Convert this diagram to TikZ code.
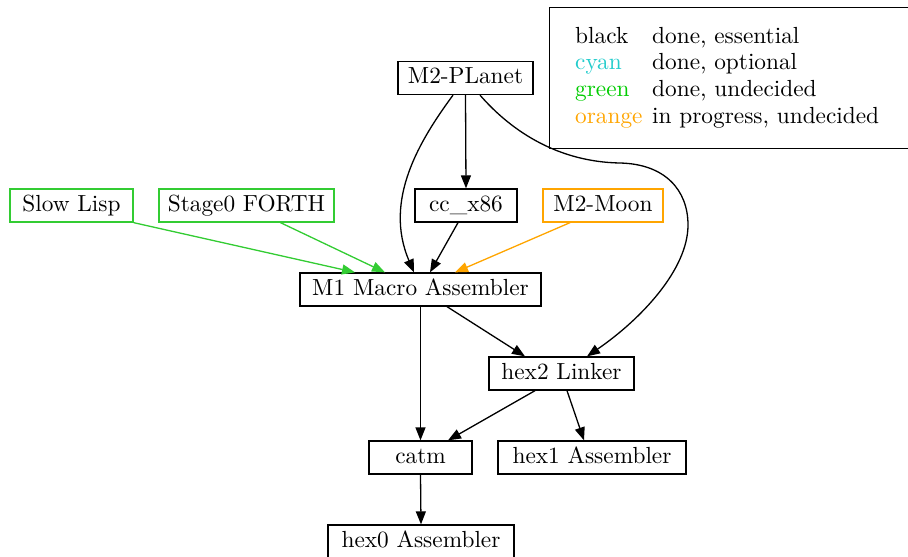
\documentclass[tikz,border=0pt]{standalone}
\usepackage{fontspec}
\setmainfont{lmroman10-regular}[Extension=.otf]
\usetikzlibrary{arrows.meta}
\definecolor{grn}{HTML}{33CC33}
\definecolor{orng}{HTML}{FFA500}
\definecolor{cyn}{HTML}{22CCCC}
\definecolor{grntxt}{HTML}{00CC00}
\begin{document}
\begin{tikzpicture}[x=1pt,y=-1pt, font=\fontsize{23.3}{28}\selectfont,
  box/.style={draw, line width=1.3pt, inner sep=0pt, minimum height=33pt, text height=16pt, text depth=5pt},
  gbox/.style={box, draw=grn},
  obox/.style={box, draw=orng},
  edge/.style={line width=1.3pt, -{Triangle[length=13pt,width=10pt]}},
  leg/.style={anchor=base west, inner sep=0pt},
]
\useasboundingbox (0,0) rectangle (908,557);
% legend
\node[draw, line width=1.3pt, inner sep=0pt, minimum width=365pt, minimum height=141pt, anchor=north west] (legend) at (549,7) {};
\node[leg] (k1) at (575,43) {black};
\node[leg, text=cyn] (k2) at (575,69.5) {cyan};
\node[leg, text=grntxt] (k3) at (575,96) {green};
\node[leg, text=orng] (k4) at (575,123) {orange};
\node[leg] (d1) at (652,43) {done, essential};
\node[leg] (d2) at (652,69.5) {done, optional};
\node[leg] (d3) at (652,96) {done, undecided};
\node[leg] (d4) at (652,123) {in progress, undecided};
% nodes
\node[box, minimum width=135pt] (m2p) at (465.5,78) {M2-PLanet};
\node[box, minimum width=102pt] (cc) at (466,205.5) {cc\_x86};
\node[obox, minimum width=120pt] (moon) at (603,205.5) {M2-Moon};
\node[gbox, minimum width=123pt] (lisp) at (71.5,205.5) {Slow Lisp};
\node[gbox, minimum width=175pt] (forth) at (246.5,205.5) {Stage0 FORTH};
\node[box, minimum width=241pt] (m1) at (420.5,289.5) {M1 Macro Assembler};
\node[box, minimum width=145pt] (hex2) at (561.5,373.5) {hex2 Linker};
\node[box, minimum width=103pt] (catm) at (420.5,457.5) {catm};
\node[box, minimum width=188pt] (hex1) at (592,457.5) {hex1 Assembler};
\node[box, minimum width=186pt] (hex0) at (421,541.5) {hex0 Assembler};
% edges
\draw[edge] (m2p.south) -- (cc.north);
\draw[edge] ([xshift=-12.5pt]m2p.south) .. controls (420,140) and (383,200) .. ([xshift=-6.5pt]m1.north);
\draw[edge] ([xshift=14.5pt]m2p.south) .. controls (513,133) and (560,162) .. (620,163)
  .. controls (665,164) and (688,190) .. (688,225)
  .. controls (688,270) and (640,320) .. ([xshift=25.5pt]hex2.north);
\draw[edge] ([xshift=-8pt]cc.south) -- ([xshift=9.5pt]m1.north);
\draw[edge, draw=orng, fill=orng] ([xshift=-33pt]moon.south) -- ([xshift=34.5pt]m1.north);
\draw[edge, draw=grn, fill=grntxt] (lisp.south east) -- ([xshift=-65.5pt]m1.north);
\draw[edge, draw=grn, fill=grntxt] ([xshift=34pt]forth.south) -- ([xshift=-35.5pt]m1.north);
\draw[edge] ([xshift=26.5pt]m1.south) -- ([xshift=-36.5pt]hex2.north);
\draw[edge] (m1.south) -- (catm.north);
\draw[edge] ([xshift=-26.5pt]hex2.south) -- ([xshift=27.5pt]catm.north);
\draw[edge] ([xshift=5.5pt]hex2.south) -- ([xshift=-8pt]hex1.north);
\draw[edge] (catm.south) -- (hex0.north);
\end{tikzpicture}
\end{document}
